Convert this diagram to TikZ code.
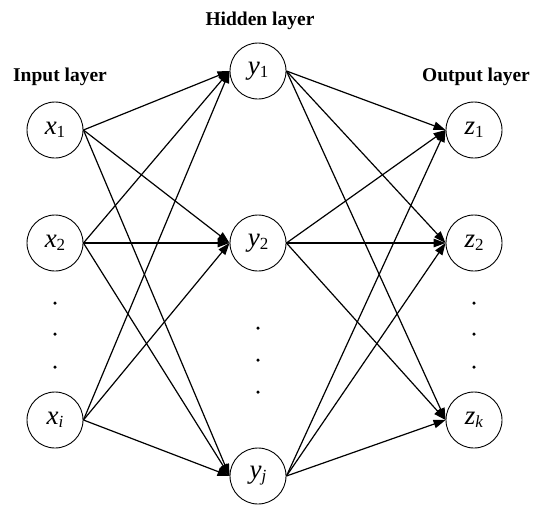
\documentclass[tikz,border=0pt]{standalone}
\usepackage{fontspec}
\setmainfont{Liberation Serif}
\usetikzlibrary{arrows.meta}
% neuron label: italic letter with a lowered, smaller index
\newcommand\neuronlbl[2]{\fontsize{27}{27}\selectfont\textit{#1}\raisebox{-3pt}{\fontsize{17}{17}\selectfont #2}}
\begin{document}
\begin{tikzpicture}[x=1pt,y=-1pt,
  neuron/.style={circle,draw,line width=0.9pt,minimum size=56pt,inner sep=0pt},
  layertitle/.style={font=\fontsize{19.5}{20}\selectfont\bfseries,anchor=base},
  link/.style={line width=1.2pt,-{Triangle[length=12pt,width=8.5pt]}},
  dot/.style={circle,fill,inner sep=0pt,minimum size=3.5pt}]
\useasboundingbox (0,0) rectangle (533,504);

% layer titles
\node[layertitle] (tin)  at (60,81)  {Input layer};
\node[layertitle] (thid) at (260,25) {Hidden layer};
\node[layertitle] (tout) at (476,81) {Output layer};

% input layer
\node[neuron] (x1) at (55,130) {\neuronlbl{x}{1}};
\node[neuron] (x2) at (55,243) {\neuronlbl{x}{2}};
\node[neuron] (xi) at (55,420) {\neuronlbl{x}{\textit{i}}};
% hidden layer
\node[neuron] (y1) at (258,71)  {\neuronlbl{y}{1}};
\node[neuron] (y2) at (258,243) {\neuronlbl{y}{2}};
\node[neuron] (yj) at (258,476) {\neuronlbl{y}{\textit{j}}};
% output layer
\node[neuron] (z1) at (474,130) {\neuronlbl{z}{1}};
\node[neuron] (z2) at (474,243) {\neuronlbl{z}{2}};
\node[neuron] (zk) at (474,420) {\neuronlbl{z}{\textit{k}}};

% ellipsis dots
\node[dot] (dl1) at (55,303) {};
\node[dot] (dl2) at (55,334) {};
\node[dot] (dl3) at (55,367) {};
\node[dot] (dm1) at (258,328) {};
\node[dot] (dm2) at (258,360) {};
\node[dot] (dm3) at (258,392) {};
\node[dot] (dr1) at (474,303) {};
\node[dot] (dr2) at (474,334) {};
\node[dot] (dr3) at (474,367) {};

% connections input -> hidden
\foreach \a in {x1,x2,xi}
  \foreach \b in {y1,y2,yj}
    \draw[link] (\a.east) -- (\b.west);
% connections hidden -> output
\foreach \a in {y1,y2,yj}
  \foreach \b in {z1,z2,zk}
    \draw[link] (\a.east) -- (\b.west);
\end{tikzpicture}
\end{document}
